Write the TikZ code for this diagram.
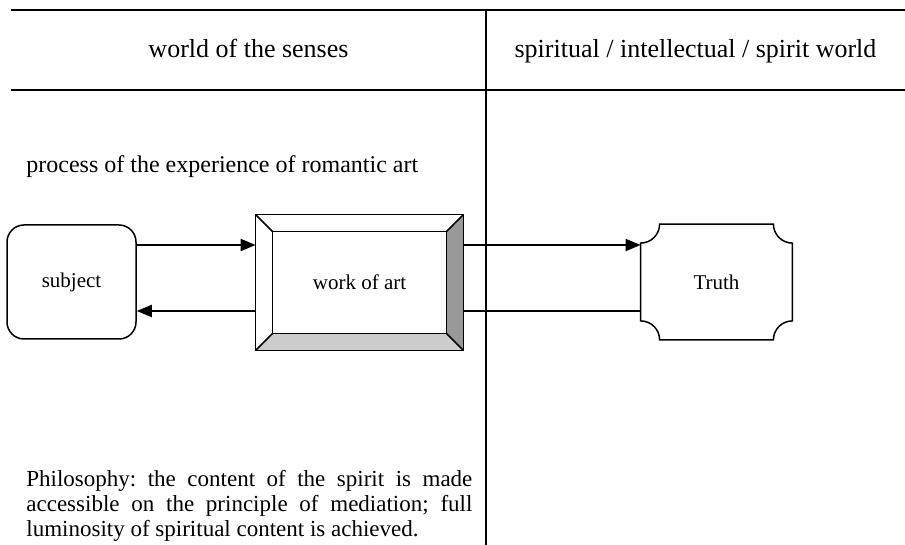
\documentclass[tikz,border=0pt]{standalone}
\usepackage{fontspec}
\setmainfont{Liberation Serif}
\usetikzlibrary{
    positioning,
    calc,
    arrows.meta
}

\tikzset{
    divider/.style={line width=1pt},
    heading/.style={font=\fontsize{13}{15}\selectfont},
    bodytext/.style={font=\fontsize{12}{14}\selectfont},
    boxtext/.style={font=\fontsize{10.5}{12}\selectfont},
    flow/.style={-{Triangle[length=7.5pt,width=6pt]}, line width=1pt},
    backflow/.style={line width=0.6pt},
    frame/.style={line width=0.75pt}
}

\begin{document}
\begin{tikzpicture}[x=0.5pt,y=0.5pt]
    \useasboundingbox (0,0) rectangle (905,545);

    % Table lines
    \draw[divider] (11,535) -- (905,535);
    \draw[divider] (11,455) -- (905,455);
    \draw[divider] (486,535) -- (486,0);

    % Column headings
    \node[heading, anchor=base] (senses) at (248.5,487) {world of the senses};
    \node[heading, anchor=base] (spirit) at (695.5,487) {spiritual / intellectual / spirit world};

    \node[bodytext, anchor=base west, inner sep=0pt] (process) at (26,372) {process of the experience of romantic art};

    % The three stations
    \node[boxtext, frame, draw, rounded corners=8.5pt, minimum width=64.5pt, minimum height=57pt] (subject) at (71.5,263) {subject};
    \node[boxtext, minimum width=103.5pt, minimum height=67.5pt] (artwork) at (359.5,262.5) {work of art};
    \node[boxtext, minimum width=75.5pt, minimum height=57.5pt] (truth) at (716.5,263) {Truth};

    % Bevelled frame of the work of art
    \coordinate (in_nw) at ($(artwork.north west)+(17,-17)$);
    \coordinate (in_ne) at ($(artwork.north east)+(-17,-17)$);
    \coordinate (in_sw) at ($(artwork.south west)+(17,17)$);
    \coordinate (in_se) at ($(artwork.south east)+(-17,17)$);
    \fill[black!40] (artwork.north east) -- (artwork.south east) -- (in_se) -- (in_ne) -- cycle;
    \fill[black!20] (artwork.south west) -- (artwork.south east) -- (in_se) -- (in_sw) -- cycle;
    \draw[frame] (artwork.north west) rectangle (artwork.south east);
    \draw[frame] (in_nw) rectangle (in_se);
    \draw[frame] (artwork.north west) -- (in_nw);
    \draw[frame] (artwork.north east) -- (in_ne);
    \draw[frame] (artwork.south west) -- (in_sw);
    \draw[frame] (artwork.south east) -- (in_se);

    % Truth with inward rounded corners
    \draw[frame] ($(truth.north west)+(19,0)$) -- ($(truth.north east)+(-19,0)$)
        arc[start angle=180, end angle=270, radius=19] -- ($(truth.south east)+(0,19)$)
        arc[start angle=90, end angle=180, radius=19] -- ($(truth.south west)+(19,0)$)
        arc[start angle=0, end angle=90, radius=19] -- ($(truth.north west)+(0,-19)$)
        arc[start angle=270, end angle=360, radius=19] -- cycle;

    % Connectors
    \draw[flow] (subject.east |- 0,300) -- (artwork.west |- 0,300);
    \draw[flow] (artwork.west |- 0,234) -- (subject.east |- 0,234);
    \draw[flow] (artwork.east |- 0,300) -- (truth.west |- 0,300);
    \draw[backflow] (artwork.east |- 0,234) -- (truth.west |- 0,234);

    % Philosophy
    \node[font=\fontsize{11.5}{12.5}\selectfont, anchor=base west, inner sep=0pt, text width=223pt, align=justify] (philosophy) at (26,58)
        {\frenchspacing\tolerance=10000 \hbadness=10000 Philosophy: the content of the spirit is made\linebreak
         accessible on the principle of mediation; full\linebreak
         luminosity of spiritual content is achieved.};
\end{tikzpicture}
\end{document}
